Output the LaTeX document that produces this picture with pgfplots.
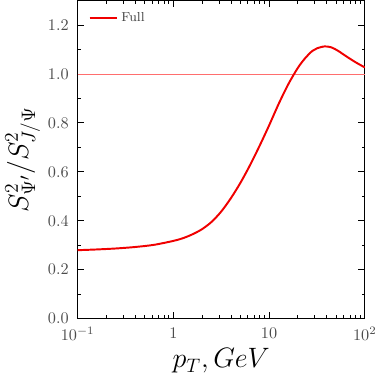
\documentclass[border=0pt]{standalone}
\usepackage{pgfplots}
\pgfplotsset{compat=1.18}
\definecolor{curvered}{RGB}{240,0,0}
\definecolor{pinkline}{RGB}{255,110,110}
\begin{document}
\begin{tikzpicture}
\begin{axis}[
  scale only axis,
  width=177pt, height=196pt,
  xmode=log,
  xmin=0.1, xmax=100,
  ymin=0, ymax=1.3,
  xtick={0.1,1,10,100},
  xticklabels={$10^{-1}$,$1$,$10$,$10^{2}$},
  ytick={0,0.2,0.4,0.6,0.8,1.0,1.2},
  yticklabel style={/pgf/number format/fixed,/pgf/number format/fixed zerofill,/pgf/number format/precision=1, xshift=-2pt},
  minor ytick={0.1,0.3,0.5,0.7,0.9,1.1},
  tick align=inside,
  tick pos=both,
  major tick length=4pt,
  minor tick length=2pt,
  tick style={black, line width=0.6pt},
  axis line style={line width=0.8pt},
  tick label style={font=\normalsize, text=black!70},
  xticklabel style={yshift=-2pt},
  xlabel={$p_T, GeV$},
  ylabel={$S^2_{\Psi'}/S^2_{J/\Psi}$},
  label style={font=\LARGE},
  xlabel style={yshift=2pt},
  ylabel style={yshift=-2pt},
  legend style={draw=none, fill=none, at={(0.02,0.985)}, anchor=north west, font=\footnotesize},
  legend cell align=left,
]
\addplot[draw=pinkline, line width=0.6pt, forget plot] coordinates {(0.1,1) (100,1)};
\addplot[curvered, line width=1.2pt, smooth] coordinates {
(0.1,0.280) (0.1585,0.283) (0.2512,0.287) (0.3981,0.293) (0.631,0.302) (1,0.318)
(1.259,0.329) (1.585,0.345) (1.995,0.366) (2.512,0.396) (3.162,0.438) (3.981,0.492)
(5.012,0.555) (6.31,0.627) (7.943,0.706) (10,0.790) (12.59,0.878) (15.85,0.958)
(19.95,1.025) (23.71,1.064) (28.18,1.094) (31.62,1.105) (38.02,1.113) (44.67,1.109)
(52.48,1.095) (63.1,1.074) (79.43,1.049) (100,1.027)
};
\addlegendentry{\textcolor{black!75}{Full}}
\end{axis}
\end{tikzpicture}
\end{document}
